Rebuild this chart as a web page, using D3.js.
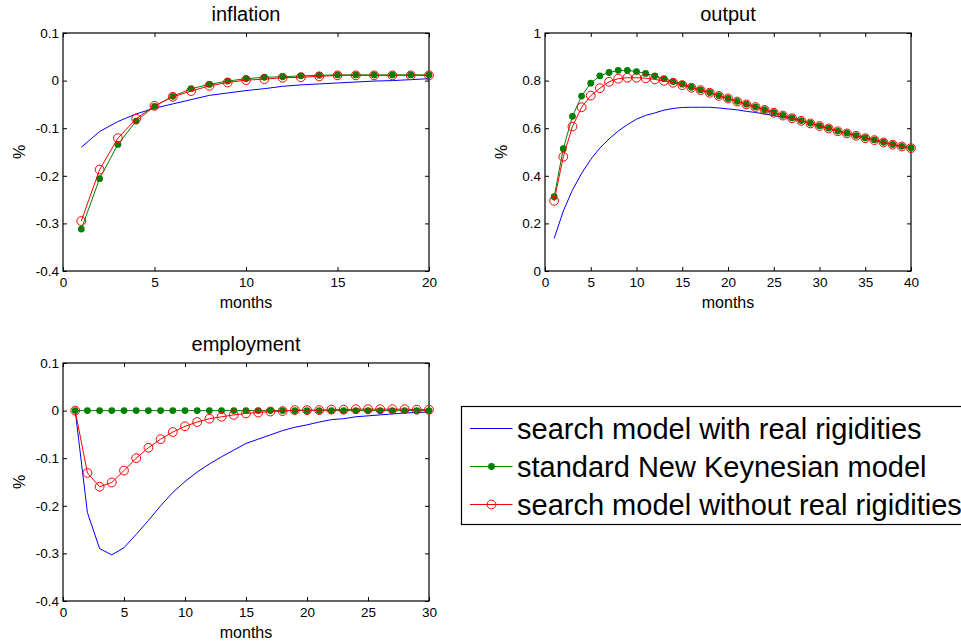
<!DOCTYPE html>
<html>
<head>
<meta charset="utf-8">
<script src="https://cdn.jsdelivr.net/npm/d3@7"></script>
<style>
	body { margin: 0; background: #fff; }
	svg { display: block; font-family: 'Liberation Sans', Arial, sans-serif; }
</style>
</head>
<body>
<div id="chart"></div>
<script>
var seriesNames = ['search model with real rigidities', 'standard New Keynesian model', 'search model without real rigidities'];

var inflationSearch = [-0.140, -0.107, -0.086, -0.070, -0.058, -0.049, -0.040, -0.031, -0.026, -0.021,
	-0.017, -0.012, -0.009, -0.007, -0.005, -0.003, -0.001, 0.000, 0.002, 0.004];
var inflationNK = [-0.312, -0.206, -0.134, -0.085, -0.054, -0.033, -0.017, -0.008, -0.001, 0.004,
	0.007, 0.008, 0.010, 0.011, 0.012, 0.012, 0.012, 0.012, 0.012, 0.012];
var inflationNoRig = [-0.295, -0.187, -0.121, -0.080, -0.053, -0.034, -0.022, -0.011, -0.004, 0.001,
	0.003, 0.006, 0.007, 0.009, 0.011, 0.011, 0.011, 0.011, 0.011, 0.011];

var outputSearch = [0.137, 0.252, 0.340, 0.410, 0.469, 0.517, 0.555, 0.588, 0.615, 0.638,
	0.654, 0.664, 0.676, 0.683, 0.687, 0.688, 0.688, 0.688, 0.685, 0.681,
	0.677, 0.671, 0.666, 0.660, 0.653, 0.646, 0.639, 0.631, 0.620, 0.609,
	0.599, 0.588, 0.578, 0.568, 0.558, 0.550, 0.540, 0.531, 0.523, 0.516];
var outputNK = [0.312, 0.514, 0.650, 0.735, 0.789, 0.820, 0.834, 0.843, 0.843, 0.838,
	0.830, 0.820, 0.808, 0.796, 0.785, 0.772, 0.761, 0.750, 0.737, 0.725,
	0.713, 0.701, 0.690, 0.678, 0.666, 0.654, 0.643, 0.632, 0.621, 0.610,
	0.600, 0.588, 0.579, 0.569, 0.559, 0.551, 0.541, 0.532, 0.524, 0.517];
var outputNoRig = [0.295, 0.480, 0.607, 0.688, 0.737, 0.768, 0.795, 0.808, 0.812, 0.812,
	0.810, 0.805, 0.799, 0.791, 0.781, 0.770, 0.760, 0.749, 0.736, 0.725,
	0.712, 0.700, 0.689, 0.677, 0.665, 0.653, 0.642, 0.631, 0.620, 0.609,
	0.599, 0.587, 0.578, 0.568, 0.558, 0.550, 0.540, 0.531, 0.523, 0.516];

var employmentSearch = [0.000, -0.214, -0.290, -0.303, -0.288, -0.260, -0.231, -0.200, -0.172, -0.149,
	-0.129, -0.112, -0.097, -0.083, -0.069, -0.060, -0.051, -0.042, -0.035, -0.030,
	-0.024, -0.019, -0.017, -0.013, -0.011, -0.009, -0.007, -0.005, -0.004, -0.003];
var employmentNK = [0, 0, 0, 0, 0, 0, 0, 0, 0, 0,
	0, 0, 0, 0, 0, 0, 0, 0, 0, 0,
	0, 0, 0, 0, 0, 0, 0, 0, 0, 0];
var employmentNoRig = [0.000, -0.131, -0.160, -0.151, -0.126, -0.100, -0.078, -0.060, -0.045, -0.033,
	-0.024, -0.017, -0.013, -0.009, -0.006, -0.004, -0.002, -0.001, 0.001, 0.001,
	0.001, 0.002, 0.002, 0.003, 0.003, 0.003, 0.003, 0.003, 0.002, 0.002];

var inflationTicksY = [-0.4, -0.3, -0.2, -0.1, 0, 0.1];
var outputTicksY = [0, 0.2, 0.4, 0.6, 0.8, 1];
var employmentTicksY = [-0.4, -0.3, -0.2, -0.1, 0, 0.1];

function IrfPanel(svg, conf) {
	this.svg = svg;
	this.config = conf;

	this.init()
		.drawAxes()
		.draw()
		.drawLabels();
}

IrfPanel.prototype = {
	init: function () {
		var conf = this.config;

		this.x_scale = d3.scaleLinear().domain([0, conf.x_max]).range([0, conf.width]);
		this.y_scale = d3.scaleLinear().domain(conf.y_domain).range([conf.height, 0]);
		this.g = this.svg.append('svg:g')
			.attr('transform', 'translate(' + conf.left + ', ' + conf.top + ')');

		return this;
	},
	drawAxes: function () {
		var g = this.g,
			conf = this.config,
			x = this.x_scale,
			y = this.y_scale,
			fmt = function (d) {return String(+d.toFixed(1));};

		// matlab style: ticks point inward on all four sides
		g.append('svg:g').attr('class', 'x axis')
			.attr('transform', 'translate(0, ' + conf.height + ')')
			.call(d3.axisBottom(x).ticks(conf.x_max / 5).tickSize(-4).tickSizeOuter(0).tickPadding(6));
		g.append('svg:g').attr('class', 'x axis top')
			.call(d3.axisTop(x).ticks(conf.x_max / 5).tickSize(-4).tickSizeOuter(0).tickFormat(''));
		g.append('svg:g').attr('class', 'y axis')
			.call(d3.axisLeft(y).tickValues(conf.y_ticks).tickFormat(fmt).tickSize(-4).tickSizeOuter(0).tickPadding(4));
		g.append('svg:g').attr('class', 'y axis right')
			.attr('transform', 'translate(' + conf.width + ', 0)')
			.call(d3.axisRight(y).tickValues(conf.y_ticks).tickSize(-4).tickSizeOuter(0).tickFormat(''));

		g.selectAll('.axis text').attr('font-size', 13.5).attr('fill', '#000')
			.attr('font-family', 'Liberation Sans, Arial, sans-serif');
		g.selectAll('.axis line').attr('stroke', '#000');
		g.selectAll('.axis path').attr('stroke', 'none');

		g.append('svg:rect')
			.attr('width', conf.width).attr('height', conf.height)
			.attr('fill', 'none').attr('stroke', '#000').attr('stroke-width', 1.2);

		return this;
	},
	draw: function () {
		var g = this.g,
			x = this.x_scale,
			y = this.y_scale,
			series = this.config.series,
			line = d3.line()
				.x(function (d, i) {return x(i + 1);})
				.y(function (d) {return y(d);});

		// blue: plain line
		g.append('svg:path').datum(series[0])
			.attr('d', line).attr('fill', 'none').attr('stroke', '#0000ff').attr('stroke-width', 1);

		// green: line with filled dots
		g.append('svg:path').datum(series[1])
			.attr('d', line).attr('fill', 'none').attr('stroke', '#008000').attr('stroke-width', 1);
		g.selectAll('circle.nk').data(series[1]).enter().append('svg:circle')
			.attr('class', 'nk')
			.attr('cx', function (d, i) {return x(i + 1);})
			.attr('cy', function (d) {return y(d);})
			.attr('r', 3.4).attr('fill', '#008000');

		// red: line with open circles
		g.append('svg:path').datum(series[2])
			.attr('d', line).attr('fill', 'none').attr('stroke', '#ff0000').attr('stroke-width', 1);
		g.selectAll('circle.norig').data(series[2]).enter().append('svg:circle')
			.attr('class', 'norig')
			.attr('cx', function (d, i) {return x(i + 1);})
			.attr('cy', function (d) {return y(d);})
			.attr('r', 4.4).attr('fill', 'none').attr('stroke', '#ff0000').attr('stroke-width', 1);

		return this;
	},
	drawLabels: function () {
		var g = this.g,
			conf = this.config;

		g.append('svg:text')
			.attr('x', conf.width / 2).attr('y', -12.5)
			.attr('text-anchor', 'middle').attr('font-size', 20)
			.text(conf.title);
		g.append('svg:text')
			.attr('x', conf.width / 2).attr('y', conf.height + 37)
			.attr('text-anchor', 'middle').attr('font-size', 16)
			.text('months');
		g.append('svg:text')
			.attr('transform', 'translate(-38, ' + conf.height / 2 + ') rotate(-90)')
			.attr('text-anchor', 'middle').attr('font-size', 16)
			.text('%');

		return this;
	}
};

function drawLegend(svg) {
	var rows = [
		{name: seriesNames[0], color: '#0000ff', marker: null},
		{name: seriesNames[1], color: '#008000', marker: 'dot'},
		{name: seriesNames[2], color: '#ff0000', marker: 'ring'}
	];
	var leg = svg.append('svg:g').attr('transform', 'translate(461.5, 406.5)');

	leg.append('svg:rect')
		.attr('width', 600).attr('height', 118)
		.attr('fill', '#fff').attr('stroke', '#000').attr('stroke-width', 1.2);

	var row = leg.selectAll('g.row').data(rows).enter().append('svg:g')
		.attr('class', 'row')
		.attr('transform', function (d, i) {return 'translate(0, ' + (22 + i * 38) + ')';});

	row.append('svg:line')
		.attr('x1', 8.5).attr('x2', 51)
		.attr('stroke', function (d) {return d.color;}).attr('stroke-width', 1);
	row.filter(function (d) {return d.marker === 'dot';}).append('svg:circle')
		.attr('cx', 30).attr('r', 3.4).attr('fill', function (d) {return d.color;});
	row.filter(function (d) {return d.marker === 'ring';}).append('svg:circle')
		.attr('cx', 30).attr('r', 4.4).attr('fill', 'none').attr('stroke', function (d) {return d.color;});
	row.append('svg:text')
		.attr('x', 55.5).attr('y', 10)
		.attr('font-size', 29)
		.text(function (d) {return d.name;});
}

var svg = d3.select('#chart').append('svg')
	.attr('width', 961).attr('height', 643);

new IrfPanel(svg, {
	title: 'inflation', left: 63, top: 33, width: 366, height: 238,
	x_max: 20, y_domain: [-0.4, 0.1], y_ticks: inflationTicksY,
	series: [inflationSearch, inflationNK, inflationNoRig]
});
new IrfPanel(svg, {
	title: 'output', left: 545, top: 33, width: 366, height: 238,
	x_max: 40, y_domain: [0, 1], y_ticks: outputTicksY,
	series: [outputSearch, outputNK, outputNoRig]
});
new IrfPanel(svg, {
	title: 'employment', left: 63, top: 363, width: 366, height: 238,
	x_max: 30, y_domain: [-0.4, 0.1], y_ticks: employmentTicksY,
	series: [employmentSearch, employmentNK, employmentNoRig]
});

drawLegend(svg);
</script>
</body>
</html>
